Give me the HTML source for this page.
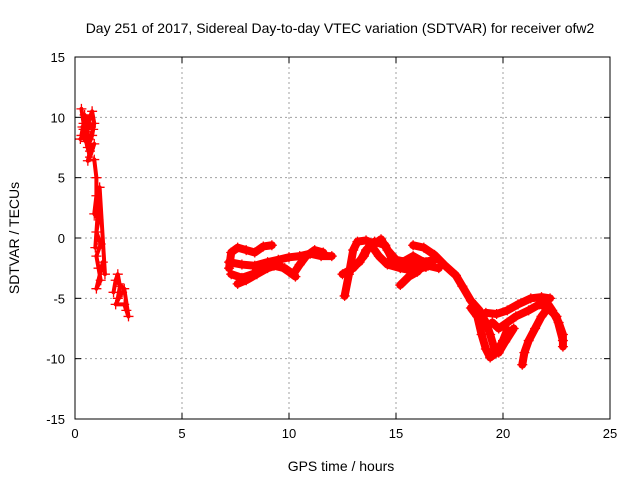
<!DOCTYPE html>
<html><head><meta charset="utf-8"><style>
body{margin:0;background:#fff}
svg{display:block;font-family:"Liberation Sans",sans-serif}
</style></head><body>
<svg id="chart" width="640" height="480" viewBox="0 0 640 480" xmlns="http://www.w3.org/2000/svg">
<text x="340" y="33" font-size="14" text-anchor="middle">Day 251 of 2017, Sidereal Day-to-day VTEC variation (SDTVAR) for receiver ofw2</text>
<text x="341" y="471" font-size="14" text-anchor="middle">GPS time / hours</text>
<text transform="translate(19,238) rotate(-90)" font-size="14" text-anchor="middle">SDTVAR / TECUs</text>
<g id="grid"></g>
<g id="ticks"></g>
<g id="marks"></g>
<rect x="75" y="57" width="535" height="362" fill="none" stroke="#000" stroke-width="1"/>
</svg>
<script>
const xTicks=[0,5,10,15,20,25];
const yTicks=[-15,-10,-5,0,5,10,15];
const early1=[[0.3,10.7],[0.4,9.5],[0.3,8.5],[0.5,8.0],[0.6,9.0],[0.7,10.0],[0.8,10.5],[0.9,9.5],[0.8,8.5],[0.6,7.5],[0.9,7.8],[0.7,6.7],[0.35,9.2],[0.55,8.8],[0.45,10.2],[0.75,9.2]];
const early1b=[[0.25,8.2],[0.45,8.6],[0.65,8.2],[0.85,9.0],[0.6,9.8],[0.4,9.0],[0.7,7.2],[0.6,6.4]];
const early2=[[0.9,6.5],[1.0,5.0],[1.0,3.5],[0.9,2.0],[1.1,1.5],[1.0,0.5],[1.2,-0.5],[1.0,-1.5],[1.1,-2.5],[1.2,-3.5],[1.0,-4.2],[1.3,-2.0],[1.4,-3.0],[1.15,4.2],[0.95,-0.8]];
const early3=[[1.8,-4.5],[1.9,-3.5],[2.0,-3.0],[2.1,-4.0],[2.0,-5.0],[2.2,-4.5],[1.9,-5.5],[2.3,-5.5],[2.4,-6.0],[2.5,-6.5],[2.3,-4.2],[2.05,-3.8]];
const track1=[[7.2,-2.5],[7.3,-1.2],[7.6,-0.8],[8.0,-1.0],[8.4,-1.2],[8.8,-0.7],[9.2,-0.6]];
const track2=[[7.2,-2.0],[7.8,-2.2],[8.4,-2.3],[9.0,-2.0],[9.5,-1.8],[10.0,-1.6],[10.5,-1.5],[11.0,-1.3],[11.5,-1.5],[12.0,-1.5]];
const track3=[[7.3,-3.0],[7.8,-3.3],[8.3,-3.0],[8.8,-2.6],[9.3,-2.3],[9.8,-2.5],[10.2,-3.0],[10.5,-2.2],[10.8,-1.5],[11.2,-1.0],[11.6,-1.2]];
const track4=[[7.6,-3.8],[8.0,-3.5],[8.5,-3.0],[9.0,-2.5],[9.5,-2.2],[10.0,-2.8],[10.3,-3.2]];
const track5=[[12.6,-4.8],[12.8,-3.0],[13.0,-1.0],[13.2,-0.3],[13.6,-0.2],[14.0,-0.5],[14.3,-0.1],[14.6,-1.0],[15.0,-1.8],[15.5,-2.0],[16.0,-2.2],[16.5,-2.3],[17.0,-2.5]];
const track6=[[12.5,-3.0],[13.0,-2.5],[13.5,-1.5],[13.8,-0.5],[14.2,-1.5],[14.6,-2.2],[15.2,-2.5],[15.8,-2.7],[16.4,-2.4]];
const track7=[[13.3,-2.0],[13.6,-1.0],[14.0,-0.3],[14.5,-0.6],[14.8,-1.7],[15.3,-2.0],[15.8,-1.5],[16.3,-2.0],[16.8,-1.8]];
const track8=[[15.2,-3.9],[15.6,-3.2],[16.0,-2.8],[16.4,-2.0]];
const track9=[[15.8,-0.6],[16.3,-0.8],[16.8,-1.4],[17.3,-2.3],[17.8,-3.1],[18.1,-4.0],[18.5,-5.2],[18.9,-6.0],[19.2,-7.0],[19.4,-8.0],[19.6,-9.2],[19.8,-9.5],[20.1,-8.6],[20.5,-7.5]];
const track10=[[18.5,-5.8],[18.8,-6.5],[19.0,-8.0],[19.2,-9.2],[19.4,-9.9],[19.7,-9.5],[20.0,-8.5],[20.2,-7.6]];
const track11=[[19.2,-6.2],[19.7,-6.3],[20.2,-6.0],[20.7,-5.5],[21.3,-5.0],[21.8,-4.9],[22.2,-5.0]];
const track12=[[19.5,-7.0],[19.8,-7.5],[20.2,-7.0],[20.6,-6.5],[21.2,-6.0],[21.7,-5.5],[22.1,-5.8],[22.5,-6.5],[22.8,-8.5]];
const track13=[[22.0,-5.2],[22.3,-6.0],[22.6,-7.0],[22.8,-8.0],[22.8,-9.0]];
const track14=[[20.9,-10.5],[21.0,-9.5],[21.2,-8.5],[21.5,-7.5],[21.8,-6.5],[22.1,-5.8]];
const sparse=[early1,early1b,early2,early3];
const dense=[track1,track2,track3,track4,track5,track6,track7,track8,track9,track10,track11,track12,track13,track14];

const NS='http://www.w3.org/2000/svg';
const X0=75,X1=610,Y0=419,Y1=57;
function sx(v){return X0+(v-0)/(25-0)*(X1-X0);}
function sy(v){return Y0-(v+15)/30*(Y0-Y1);}
const grid=document.getElementById('grid'),ticks=document.getElementById('ticks'),marks=document.getElementById('marks'),svg=document.getElementById('chart');
function mk(tag,attrs,parent){const e=document.createElementNS(NS,tag);for(const k in attrs)e.setAttribute(k,attrs[k]);parent.appendChild(e);return e;}
xTicks.forEach(t=>{const x=sx(t);
 if(t>0&&t<25){const g=mk('line',{x1:x,x2:x,y1:Y0,y2:Y1,stroke:'#a0a0a0','stroke-dasharray':'2,3'},grid);
 
 }
 mk('line',{x1:x,x2:x,y1:Y0,y2:Y0-6,stroke:'#000'},ticks);
 mk('line',{x1:x,x2:x,y1:Y1,y2:Y1+6,stroke:'#000'},ticks);
 const l=mk('text',{x:x,y:Y0+19,'font-size':13,'text-anchor':'middle'},svg);l.textContent=t;
 
 
});
yTicks.forEach(t=>{const y=sy(t);
 if(t>-15&&t<15){const g=mk('line',{x1:X0,x2:X1,y1:y,y2:y,stroke:'#a0a0a0','stroke-dasharray':'2,3'},grid);
 
 }
 mk('line',{x1:X0,x2:X0+6,y1:y,y2:y,stroke:'#000'},ticks);
 mk('line',{x1:X1,x2:X1-6,y1:y,y2:y,stroke:'#000'},ticks);
 const l=mk('text',{x:X0-10,y:y+5,'font-size':13,'text-anchor':'end'},svg);l.textContent=t;
 
 
});
function plus(x,y,s){const p=mk('path',{d:`M${x-s},${y}H${x+s}M${x},${y-s}V${y+s}`,stroke:'#f00','stroke-width':1.3,fill:'none'},marks);
 
 }
function track(arr,w,s){const pts=arr.map(p=>sx(p[0])+','+sy(p[1])).join(' ');
 const pl=mk('polyline',{points:pts,fill:'none',stroke:'#f00','stroke-width':w,'stroke-linejoin':'round','stroke-linecap':'round'},marks);
 
 
 arr.forEach(p=>plus(sx(p[0]),sy(p[1]),s));}
sparse.forEach(a=>track(a,4,5));
dense.forEach(a=>track(a,8,5));
</script>
</body></html>
